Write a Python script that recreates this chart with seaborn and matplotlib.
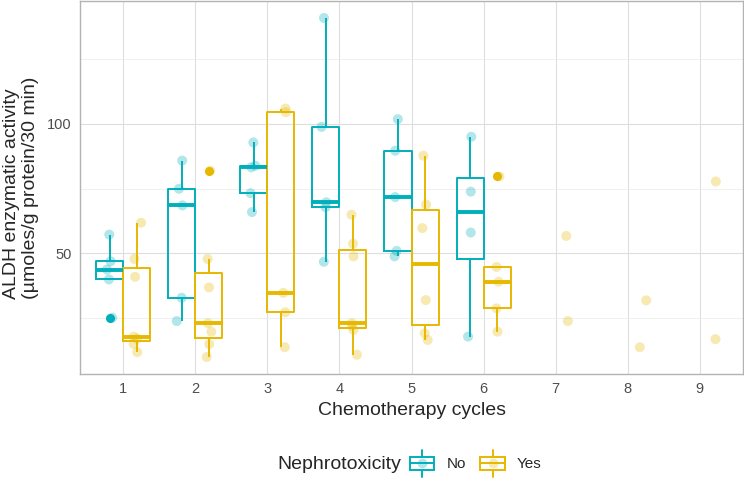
import numpy as np
import pandas as pd
import matplotlib
matplotlib.use("Agg")
import matplotlib.pyplot as plt
import seaborn as sns
from matplotlib.lines import Line2D
from matplotlib.patches import Rectangle
from matplotlib.legend_handler import HandlerBase

# values, one list per cycle
cycles = ["1", "2", "3", "4", "5", "6", "7", "8", "9"]
no_values = [
    [57.2, 46.9, 43.7, 39.9, 25.1],
    [85.8, 74.9, 68.5, 32.8, 23.8],
    [92.8, 83.8, 83.2, 73.2, 65.9],
    [140.9, 98.8, 69.7, 67.8, 46.7],
    [101.8, 89.6, 71.7, 50.9, 48.8],
    [95.0, 73.8, 58.0, 17.8],
    [], [], [],
]
yes_values = [
    [61.8, 47.8, 40.9, 17.8, 17.0, 15.0, 11.8],
    [81.9, 47.8, 36.8, 23.0, 19.7, 14.9, 9.9],
    [105.9, 104.5, 34.7, 27.2, 13.7],
    [64.9, 53.7, 48.8, 23.0, 22.0, 20.4, 10.8],
    [87.7, 68.8, 59.7, 31.9, 19.1, 16.5],
    [79.7, 44.7, 39.0, 28.7, 19.7],
    [56.7, 23.8],
    [31.8, 13.7],
    [77.7, 16.8],
]
box_cycles = ["1", "2", "3", "4", "5", "6"]
groups = ["No", "Yes"]
palette = {"No": "#00AFBB", "Yes": "#E7B800"}

rows = []
for c, vals in zip(cycles, no_values):
    rows += [(c, "No", v) for v in vals]
for c, vals in zip(cycles, yes_values):
    rows += [(c, "Yes", v) for v in vals]
df = pd.DataFrame(rows, columns=["cycle", "nephro", "aldh"])


class BoxKey(HandlerBase):
    def create_artists(self, legend, orig_handle, xdescent, ydescent,
                       width, height, fontsize, trans):
        col = orig_handle.get_color()
        x0 = -xdescent
        cy = -ydescent + height / 2
        bh = 9.4
        xm = x0 + width / 2
        parts = [
            Rectangle((x0 + 0.5, cy - bh / 2), width - 1, bh, fill=False,
                      edgecolor=col, lw=1.4),
            Line2D([x0 + 0.5, x0 + width - 0.5], [cy, cy], color=col, lw=1.4),
            Line2D([xm, xm], [cy + bh / 2, cy + 9.7], color=col, lw=1.4),
            Line2D([xm, xm], [cy - bh / 2, cy - 9.7], color=col, lw=1.4),
            Line2D([xm], [cy], marker="o", markersize=7, mec="none",
                   mfc=col, alpha=0.3, linestyle="none"),
        ]
        for p in parts:
            p.set_transform(trans)
        return parts


sns.set_style("white")
plt.rcParams["font.family"] = ["Liberation Sans", "DejaVu Sans"]

fig = plt.figure(figsize=(7.44, 4.78), dpi=100)
ax = fig.add_axes([80 / 744, 104 / 478, 663 / 744, 373 / 478])

sns.boxplot(data=df[df["cycle"].isin(box_cycles)], x="cycle", y="aldh",
            hue="nephro", order=cycles, hue_order=groups, palette=palette,
            fill=False, dodge=True, width=0.75, gap=0.0, linewidth=1.4,
            showcaps=False, whis=1.5, fliersize=5.5,
            medianprops={"linewidth": 2.8},
            flierprops={"marker": "o"},
            legend=False, ax=ax)
# outliers drawn as solid dots
for ln in ax.lines:
    if ln.get_marker() == "o":
        ln.set_markerfacecolor(ln.get_markeredgecolor())

np.random.seed(3)
sns.stripplot(data=df, x="cycle", y="aldh", hue="nephro", order=cycles,
              hue_order=groups, palette=palette, dodge=True, jitter=0.12,
              size=7.2, alpha=0.3, linewidth=0, legend=False, ax=ax)

ax.set_xlim(-0.6, 8.6)
ax.set_ylim(3.35, 147.45)
ax.set_yticks([50, 100])
ax.set_yticks([25, 75, 125], minor=True)
ax.grid(True, which="major", color="#DEDEDE", linewidth=0.8)
ax.grid(True, which="minor", axis="y", color="#EEEEEE", linewidth=0.6)
ax.set_axisbelow(True)
for s in ax.spines.values():
    s.set_color("#B3B3B3")
    s.set_linewidth(1.0)
ax.tick_params(axis="both", which="major", length=3, width=0.8,
               color="#B3B3B3", labelsize=10.5, labelcolor="#4D4D4D", pad=3)
ax.tick_params(axis="y", which="minor", length=0)

ax.set_xlabel("Chemotherapy cycles", fontsize=14, labelpad=4)
ax.set_ylabel("ALDH enzymatic activity\n(µmoles/g protein/30 min)",
              fontsize=14, multialignment="left", linespacing=1.1, labelpad=6)

handles = [Line2D([], [], color=palette[g], label=g) for g in groups]
fig.text(277 / 744, 1 - 464.5 / 478, "Nephrotoxicity", fontsize=14,
         ha="left", va="center")
fig.legend(handles=handles, handler_map={Line2D: BoxKey()}, ncol=2,
           loc="center left", bbox_to_anchor=(409 / 744, 1 - 464.5 / 478),
           frameon=False, fontsize=11, handlelength=1.7, handletextpad=0.75,
           columnspacing=0.9, borderpad=0, borderaxespad=0)

fig.savefig("out.png", dpi=100)
